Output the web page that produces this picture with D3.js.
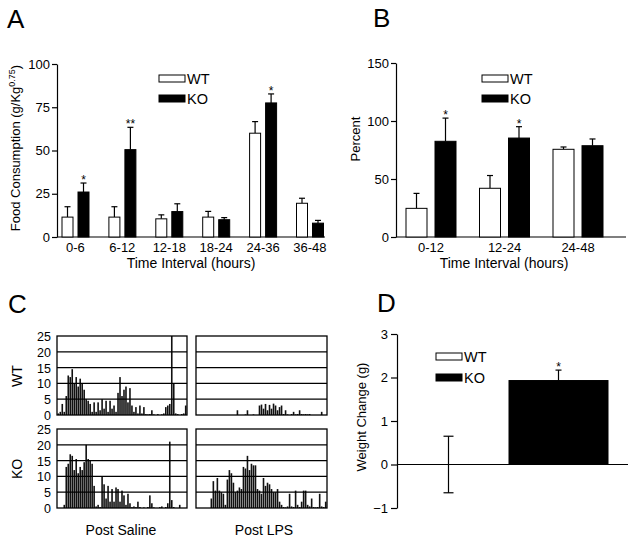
<!DOCTYPE html>
<html><head><meta charset="utf-8">
<script src="https://cdn.jsdelivr.net/npm/d3@7"></script>
<style>
body{margin:0;background:#fff;}
svg{display:block;font-family:"Liberation Sans",Arial,Helvetica,sans-serif;}
</style></head><body><svg id="c" width="638" height="543"></svg>
<script>
// ---------- DATA ----------
const seriesKeys = ["WT", "KO"];
// Panel A
const aCategories = ["0-6", "6-12", "12-18", "18-24", "24-36", "36-48"];
const aWT    = [11.5, 11.5, 10.5, 11.5, 60, 19.5];
const aWTerr = [6, 6, 2.3, 3.3, 6.7, 2.9];
const aKO    = [26, 50.5, 14.7, 10, 77.5, 8];
const aKOerr = [5.2, 12.9, 4.5, 1.2, 5.2, 1.6];
const aKOstars = ["*", "**", "", "", "*", ""];
const aTicks = [0, 25, 50, 75, 100];
// Panel B
const bCategories = ["0-12", "12-24", "24-48"];
const bWT    = [24.7, 42, 75.6];
const bWTerr = [12.9, 11, 2];
const bKO    = [82.5, 85.3, 78.7];
const bKOerr = [20, 9.8, 5.8];
const bKOstars = ["*", "*", ""];
const bTicks = [0, 50, 100, 150];
// Panel C (feeding activity histograms)
const cTicks = [0, 5, 10, 15, 20, 25];
const cWTSaline = [0.5,1,3.5,1,6,12.5,12,14.5,10,12,9,11.5,10,8,5,4.5,3.5,1,4,1,4,1.5,5,2,4.5,1,4.5,2,3,1,7,12,6,8,9,4,8.5,3,1,2.5,0.5,3,0.5,2.5,0.3,0.2,0.3,1.5,0.2,0,0.3,0,0.2,0.5,2.5,3,3.5,25,10,0.5,0.3,0,0.3,0.5,3];
const cWTLPS = [0,0,0,0,0,0,0,0,0,0,0,0,0,0,0,0,0,0,0,0,1.5,0,0,0,0.2,1.5,0,0,0.2,0,0,3,3.3,2,3.5,1.5,3.2,2,3.6,3,1.5,2.5,3,0.3,1.5,0.2,0,0.3,1,0.2,0.3,1.5,0.3,0.2,0.3,0.2,0.3,0,0,0,0,0,1,0,0];
const cKOSaline = [0,0,0,1,13,14,17,16.5,12,15.5,11,13,12,14.5,20,15.5,15,14,7,0.5,1,0.3,10,7.5,3,7,2,6,2,6.5,6,2,5.5,4,1,4.5,1.5,0.3,0.5,0.3,2,0.3,0,0.2,0,0.3,4,1.5,0.2,0,0,0.3,0.5,0,0.3,1.5,21,2.5,0.3,0,0,1,0,0,0];
const cKOLPS = [0,0,0,0,0,0,0,3,8.5,5.5,9.5,5.5,5,4.5,1,9,12,11,8,5,5.5,6.5,6,13,12.5,16.5,12,14,13.5,13.5,6,5.5,4.5,9.5,7,8,7.5,6,5,5,6,2,1,0.3,0.2,0.5,4.5,0.5,0.3,5.5,1,0.3,2,5.5,5.5,1,0.5,3,0.3,0.2,0.3,4.5,0.5,0.3,2];
// Panel D
const dGroups  = ["WT", "KO"];
const dValues  = [0, 1.93];
const dErrLow  = [-0.65, 1.93];
const dErrHigh = [0.65, 2.17];
const dStars   = ["", "*"];
const dTicks   = [-1, 0, 1, 2, 3];

// ---------- DRAWING ----------
const svg = d3.select("#c");
const fills = {WT: "#fff", KO: "#000"};

function styleAxis(g, fs) {
  g.selectAll("text").attr("font-size", fs).attr("fill", "#000").attr("font-family", null);
  g.selectAll("line,path").attr("stroke", "#000").attr("stroke-width", 1.2);
}
function text(x, y, t, fs, anchor) {
  return svg.append("text").attr("x", x).attr("y", y).attr("font-size", fs)
    .attr("text-anchor", anchor || "start").attr("fill", "#000").text(t);
}
function rotText(x, y, t, fs) {
  return svg.append("text").attr("transform", `translate(${x},${y}) rotate(-90)`)
    .attr("font-size", fs).attr("text-anchor", "middle").attr("fill", "#000").text(t);
}
function legend(x, yWT, yKO) {
  [[ "WT", yWT ], [ "KO", yKO ]].forEach(([k, y]) => {
    svg.append("rect").attr("x", x).attr("y", y).attr("width", 26).attr("height", 7)
      .attr("fill", fills[k]).attr("stroke", "#000").attr("stroke-width", 1);
    text(x + 28, y + 9, k, 14.5);
  });
}
function errBar(cx, y1, y2, half) {
  svg.append("line").attr("x1", cx).attr("x2", cx).attr("y1", y1).attr("y2", y2)
    .attr("stroke", "#000").attr("stroke-width", 1.2);
  svg.append("line").attr("x1", cx - half).attr("x2", cx + half).attr("y1", y2).attr("y2", y2)
    .attr("stroke", "#000").attr("stroke-width", 1.2);
}
function grouped(cats, x, xin, y, data) {
  data.forEach(s => {
    cats.forEach((c, i) => {
      const x0 = x(c) + xin(s.key), w = xin.bandwidth(), cx = x0 + w / 2;
      const top = y(s.vals[i] + s.err[i]);
      errBar(cx, y(s.vals[i]), top, 3);
      svg.append("rect").attr("x", x0).attr("y", y(s.vals[i]))
        .attr("width", w).attr("height", y(0) - y(s.vals[i]))
        .attr("fill", fills[s.key]).attr("stroke", "#000").attr("stroke-width", 1);
      if (s.stars && s.stars[i]) text(cx, top + 1, s.stars[i], 12, "middle");
    });
  });
}

// ---- Panel A ----
text(7, 28, "A", 26);
const yA = d3.scaleLinear().domain([0, 100]).range([237, 64]);
const xA = d3.scaleBand().domain(aCategories).range([52, 333.4]);
const xAin = d3.scaleBand().domain(seriesKeys).range([10, 37]).paddingInner(0.3125);
const gAy = svg.append("g").attr("transform", "translate(57,0)")
  .call(d3.axisLeft(yA).tickValues(aTicks).tickSize(5).tickSizeOuter(0).tickPadding(2));
styleAxis(gAy, 13);
svg.append("line").attr("x1", 57).attr("x2", 325).attr("y1", yA(0)).attr("y2", yA(0))
  .attr("stroke", "#000").attr("stroke-width", 1.2);
const gAx = svg.append("g").attr("transform", `translate(0,${yA(0)})`)
  .call(d3.axisBottom(xA).tickSize(0).tickPadding(6));
gAx.select(".domain").remove();
styleAxis(gAx, 13);
grouped(aCategories, xA, xAin, yA, [
  {key: "WT", vals: aWT, err: aWTerr},
  {key: "KO", vals: aKO, err: aKOerr, stars: aKOstars}]);
legend(159, 75, 95);
const tA = rotText(20, 148, "Food Consumption (g/Kg", 13);
tA.append("tspan").attr("font-size", 9).attr("dy", -5).text("0.75");
tA.append("tspan").attr("dy", 5).text(")");
text(191, 268, "Time Interval (hours)", 14, "middle");

// ---- Panel B ----
text(373, 27, "B", 26);
const yB = d3.scaleLinear().domain([0, 150]).range([237, 63]);
const xB = d3.scaleBand().domain(bCategories).range([394.25, 614.75]);
const xBin = d3.scaleBand().domain(seriesKeys).range([11.75, 61.75]).paddingInner(0.276);
const gBy = svg.append("g").attr("transform", "translate(396,0)")
  .call(d3.axisLeft(yB).tickValues(bTicks).tickSize(5).tickSizeOuter(0).tickPadding(2));
styleAxis(gBy, 13);
svg.append("line").attr("x1", 396).attr("x2", 626).attr("y1", yB(0)).attr("y2", yB(0))
  .attr("stroke", "#000").attr("stroke-width", 1.2);
const gBx = svg.append("g").attr("transform", `translate(0,${yB(0)})`)
  .call(d3.axisBottom(xB).tickSize(0).tickPadding(6));
gBx.select(".domain").remove();
styleAxis(gBx, 13);
grouped(bCategories, xB, xBin, yB, [
  {key: "WT", vals: bWT, err: bWTerr},
  {key: "KO", vals: bKO, err: bKOerr, stars: bKOstars}]);
legend(482, 75, 95);
rotText(360, 139, "Percent", 13);
text(504, 268, "Time Interval (hours)", 14, "middle");

// ---- Panel C ----
text(8, 313, "C", 26);
const cPanels = [
  {vals: cWTSaline, x0: 57, x1: 187, y0: 336, y1: 415},
  {vals: cWTLPS,    x0: 196, x1: 327, y0: 336, y1: 415},
  {vals: cKOSaline, x0: 57, x1: 187, y0: 429, y1: 508},
  {vals: cKOLPS,    x0: 196, x1: 327, y0: 429, y1: 508}];
cPanels.forEach((p, pi) => {
  const y = d3.scaleLinear().domain([0, 25]).range([p.y1, p.y0]);
  const x = d3.scaleBand().domain(d3.range(p.vals.length)).range([p.x0 + 0.5, p.x1 - 0.5]).paddingInner(0.2);
  svg.append("g").selectAll("rect").data(p.vals).join("rect")
    .attr("x", (d, i) => x(i)).attr("width", x.bandwidth())
    .attr("y", d => y(d)).attr("height", d => y(0) - y(d))
    .attr("fill", "#111");
  svg.append("g").selectAll("line").data(cTicks.slice(1, -1)).join("line")
    .attr("x1", p.x0).attr("x2", p.x1).attr("y1", d => y(d)).attr("y2", d => y(d))
    .attr("stroke", "#000").attr("stroke-width", 1.3);
  svg.append("rect").attr("x", p.x0).attr("y", p.y0).attr("width", p.x1 - p.x0)
    .attr("height", p.y1 - p.y0).attr("fill", "none").attr("stroke", "#000").attr("stroke-width", 1.3);
  if (pi % 2 === 0) {
    const g = svg.append("g").attr("transform", `translate(${p.x0},0)`)
      .call(d3.axisLeft(y).tickValues(cTicks).tickSize(0).tickPadding(6));
    g.select(".domain").remove();
    styleAxis(g, 12.5);
    g.selectAll("text").attr("dy", "0.36em");
  }
});
rotText(22, 376, "WT", 14);
rotText(22, 469, "KO", 14);
text(121, 535, "Post Saline", 14, "middle");
text(264, 535, "Post LPS", 14, "middle");

// ---- Panel D ----
text(377, 312, "D", 26);
const yD = d3.scaleLinear().domain([-1, 3]).range([508, 334]);
const xD = d3.scaleBand().domain(dGroups).range([393.5, 613.5]).paddingInner(0.1).paddingOuter(0.05);
const gDy = svg.append("g").attr("transform", "translate(397,0)")
  .call(d3.axisLeft(yD).tickValues(dTicks).tickFormat(d3.format("d")).tickSize(6).tickSizeOuter(0).tickPadding(3));
styleAxis(gDy, 13);
dGroups.forEach((k, i) => {
  const cx = xD(k) + xD.bandwidth() / 2;
  if (dValues[i] !== 0) {
    svg.append("rect").attr("x", xD(k)).attr("y", yD(Math.max(0, dValues[i])))
      .attr("width", xD.bandwidth()).attr("height", Math.abs(yD(dValues[i]) - yD(0)))
      .attr("fill", fills[k]).attr("stroke", "#000").attr("stroke-width", 1);
  }
  const half = dValues[i] === 0 ? 5 : 3;
  svg.append("line").attr("x1", cx).attr("x2", cx).attr("y1", yD(dErrLow[i])).attr("y2", yD(dErrHigh[i]))
    .attr("stroke", "#000").attr("stroke-width", 1.2);
  [dErrHigh[i]].concat(dValues[i] === 0 ? [dErrLow[i]] : []).forEach(v => {
    svg.append("line").attr("x1", cx - half).attr("x2", cx + half).attr("y1", yD(v)).attr("y2", yD(v))
      .attr("stroke", "#000").attr("stroke-width", 1.2);
  });
  if (dStars[i]) text(cx, yD(dErrHigh[i]) + 1, dStars[i], 12, "middle");
});
svg.append("line").attr("x1", 397).attr("x2", 628).attr("y1", yD(0)).attr("y2", yD(0))
  .attr("stroke", "#000").attr("stroke-width", 1.2);
legend(436, 353, 374);
rotText(366, 417, "Weight Change (g)", 13);
</script></body></html>
